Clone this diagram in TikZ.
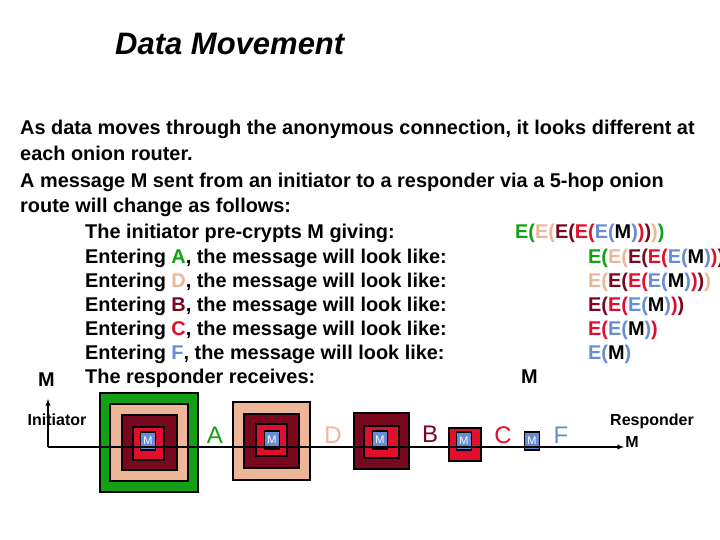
\documentclass[tikz,border=0pt]{standalone}
\usepackage{fontspec}
\setmainfont{Liberation Sans}
\definecolor{cg}{RGB}{20,160,20}
\definecolor{cp}{RGB}{238,182,152}
\definecolor{cd}{RGB}{120,8,30}
\definecolor{cr}{RGB}{225,15,45}
\definecolor{cb}{RGB}{105,140,215}
\newcommand{\Eg}[1]{\textcolor{cg}{E(}#1\textcolor{cg}{)}}
\newcommand{\Ep}[1]{\textcolor{cp}{E(}#1\textcolor{cp}{)}}
\newcommand{\Ed}[1]{\textcolor{cd}{E(}#1\textcolor{cd}{)}}
\newcommand{\Er}[1]{\textcolor{cr}{E(}#1\textcolor{cr}{)}}
\newcommand{\Eb}[1]{\textcolor{cb}{E(}#1\textcolor{cb}{)}}
\begin{document}
\begin{tikzpicture}[x=1pt,y=-1pt,
  txt/.style={anchor=base west,inner sep=0,font=\bfseries\fontsize{19.9}{22}\selectfont},
  lbl/.style={inner sep=0,font=\fontsize{24}{26}\selectfont},
  box/.style={draw=black,line width=1.3pt},
  mbox/.style={draw=black,line width=1.3pt,fill=cb,text=white,font=\fontsize{11}{12}\selectfont,inner sep=0}]
\useasboundingbox (0,0) rectangle (720,540);
\clip (0,0) rectangle (720,540);
\node[txt,font=\bfseries\itshape\fontsize{31}{34}\selectfont] (title) at (115,55) {Data Movement};
\node[txt] (l1) at (20,135) {As data moves through the anonymous connection, it looks different at};
\node[txt] (l2) at (20,161) {each onion router.};
\node[txt] (l3) at (20,188) {A message M sent from an initiator to a responder via a 5-hop onion};
\node[txt] (l4) at (20,212) {route will change as follows:};
\node[txt] (a1) at (85,239) {The initiator pre-crypts M giving:};
\node[txt] (a2) at (85,263) {Entering \textcolor{cg}{A}, the message will look like:};
\node[txt] (a3) at (85,287) {Entering \textcolor{cp}{D}, the message will look like:};
\node[txt] (a4) at (85,311) {Entering \textcolor{cd}{B}, the message will look like:};
\node[txt] (a5) at (85,335) {Entering \textcolor{cr}{C}, the message will look like:};
\node[txt] (a6) at (85,359) {Entering \textcolor{cb}{F}, the message will look like:};
\node[txt] (a7) at (85,383) {The responder receives:};
\node[txt] (lm) at (38,386) {M};
\node[txt] (b1) at (515,239) {\Eg{\Ep{\Ed{\Er{\Eb{M}}}}}};
\node[txt] (b2) at (588,263) {\Eg{\Ep{\Ed{\Er{\Eb{M}}}}}};
\node[txt] (b3) at (588,287) {\Ep{\Ed{\Er{\Eb{M}}}}};
\node[txt] (b4) at (588,311) {\Ed{\Er{\Eb{M}}}};
\node[txt] (b5) at (588,335) {\Er{\Eb{M}}};
\node[txt] (b6) at (588,359) {\Eb{M}};
\node[txt] (b7) at (521,383) {M};
% boxes
\draw[box,fill=cg] (100,393) rectangle (198,492);
\draw[box,fill=cp] (110,404) rectangle (188,481);
\draw[box,fill=cd] (122,415) rectangle (177,470);
\draw[box,fill=cr] (133,427) rectangle (164,460);
\draw[box,fill=cp] (233,402) rectangle (310,480);
\draw[box,fill=cd] (244,414) rectangle (299,468);
\draw[box,fill=cr] (256,424) rectangle (287,456);
\draw[box,fill=cd] (354,413) rectangle (409,469);
\draw[box,fill=cr] (364,426) rectangle (399,458);
\draw[box,fill=cr] (449,428) rectangle (481,461);
\node[mbox,minimum width=15pt,minimum height=18pt] (m1) at (148,441) {M};
\node[mbox,minimum width=15pt,minimum height=18pt] (m2) at (272,440) {M};
\node[mbox,minimum width=15pt,minimum height=18pt] (m3) at (380,440) {M};
\node[mbox,minimum width=15pt,minimum height=18pt] (m4) at (464,441) {M};
\node[mbox,minimum width=15pt,minimum height=18pt] (m5) at (532,441) {M};
\coordinate (o) at (48,447);
\coordinate (up) at (48,399);
\coordinate (end) at (624,447);
\draw[line width=1.3pt,-latex] (o) -- (up);
\draw[line width=1.3pt,-latex] (o) -- (end);
\node[lbl,text=cg] (A) at (215,435) {A};
\node[lbl,text=cp] (D) at (333,435) {D};
\node[lbl,text=cd] (B) at (430,434) {B};
\node[lbl,text=cr] (C) at (503,435) {C};
\node[lbl,text=cb] (F) at (561,435) {F};
\node[inner sep=0,font=\bfseries\fontsize{16}{18}\selectfont] (ini) at (57,420) {Initiator};
\node[inner sep=0,font=\bfseries\fontsize{16}{18}\selectfont] (res) at (652,421) {Responder};
\node[inner sep=0,font=\bfseries\fontsize{16}{18}\selectfont] (rm) at (632,442) {M};
\end{tikzpicture}
\end{document}
